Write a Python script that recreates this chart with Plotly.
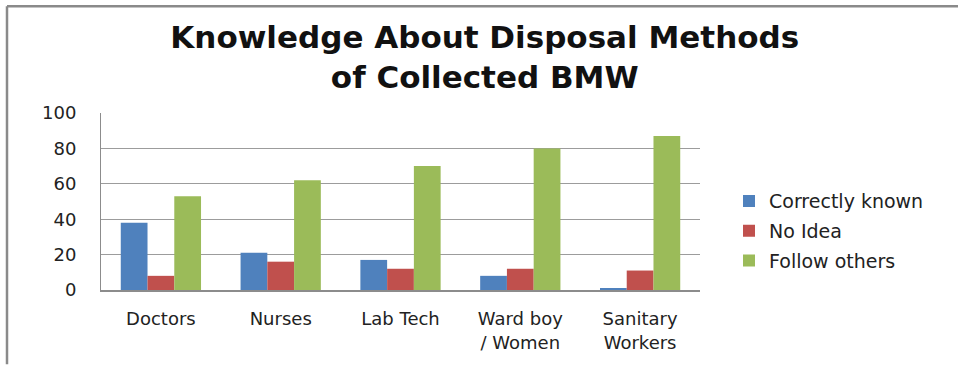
import plotly.graph_objects as go

# Staff groups and survey responses (%)
categories = ["Doctors", "Nurses", "Lab Tech", "Ward boy<br>/ Women", "Sanitary<br>Workers"]
correctly_known = [38, 21, 17, 8, 1]
no_idea = [8, 16, 12, 12, 11]
follow_others = [53, 62, 70, 80, 87]
y_ticks = [0, 20, 40, 60, 80, 100]

series = [
    ("Correctly known", correctly_known, "#4F81BD"),
    ("No Idea", no_idea, "#C0504D"),
    ("Follow others", follow_others, "#9BBB59"),
]

W, H = 958, 365
L, R, T, B = 101, 258, 113, 73

fig = go.Figure()
for name, vals, color in series:
    fig.add_trace(go.Bar(x=categories, y=vals, name=name, marker_color=color,
                         marker_line_width=0, legendgroup=name))

def px_x(px):
    return (px - L) / (W - L - R)

def px_y(py):
    return (H - B - py) / (H - T - B)

tick_font = dict(family="DejaVu Sans", size=18, color="#222222")

fig.update_layout(
    width=W, height=H,
    margin=dict(l=L, r=R, t=T, b=B),
    paper_bgcolor="white", plot_bgcolor="white",
    barmode="group", bargap=0.33, bargroupgap=0,
    title=dict(
        text="<b>Knowledge About Disposal Methods<br>of Collected BMW</b>",
        x=0.506, xanchor="center", y=1 - 48 / H, yanchor="middle",
        font=dict(family="DejaVu Sans", size=31, color="#111111"),
    ),
    showlegend=True,
    legend=dict(
        x=px_x(729), xanchor="left", y=px_y(183), yanchor="top",
        font=dict(family="DejaVu Sans", size=19, color="#222222"),
        tracegroupgap=2, itemsizing="constant", itemwidth=30,
        bgcolor="rgba(0,0,0,0)",
    ),
    xaxis=dict(
        showgrid=False, showline=True, linecolor="#8C8C8C", linewidth=1.5,
        tickfont=tick_font, ticks="", ticklabelstandoff=12,
    ),
    yaxis=dict(
        range=[0, 100], tickvals=y_ticks, showgrid=True, gridcolor="#9C9C9C",
        gridwidth=1, showline=True, linecolor="#8C8C8C", linewidth=1,
        tickfont=tick_font, ticks="", ticklabelstandoff=20, zeroline=False,
    ),
    shapes=[
        dict(type="line", xref="paper", yref="paper",
             x0=px_x(7), x1=px_x(960), y0=px_y(5), y1=px_y(5),
             line=dict(color="#8A8A8A", width=2.5)),
        dict(type="line", xref="paper", yref="paper",
             x0=px_x(7), x1=px_x(7), y0=px_y(5), y1=px_y(367),
             line=dict(color="#8A8A8A", width=2.5)),
    ],
)

fig.write_html("out.html")
